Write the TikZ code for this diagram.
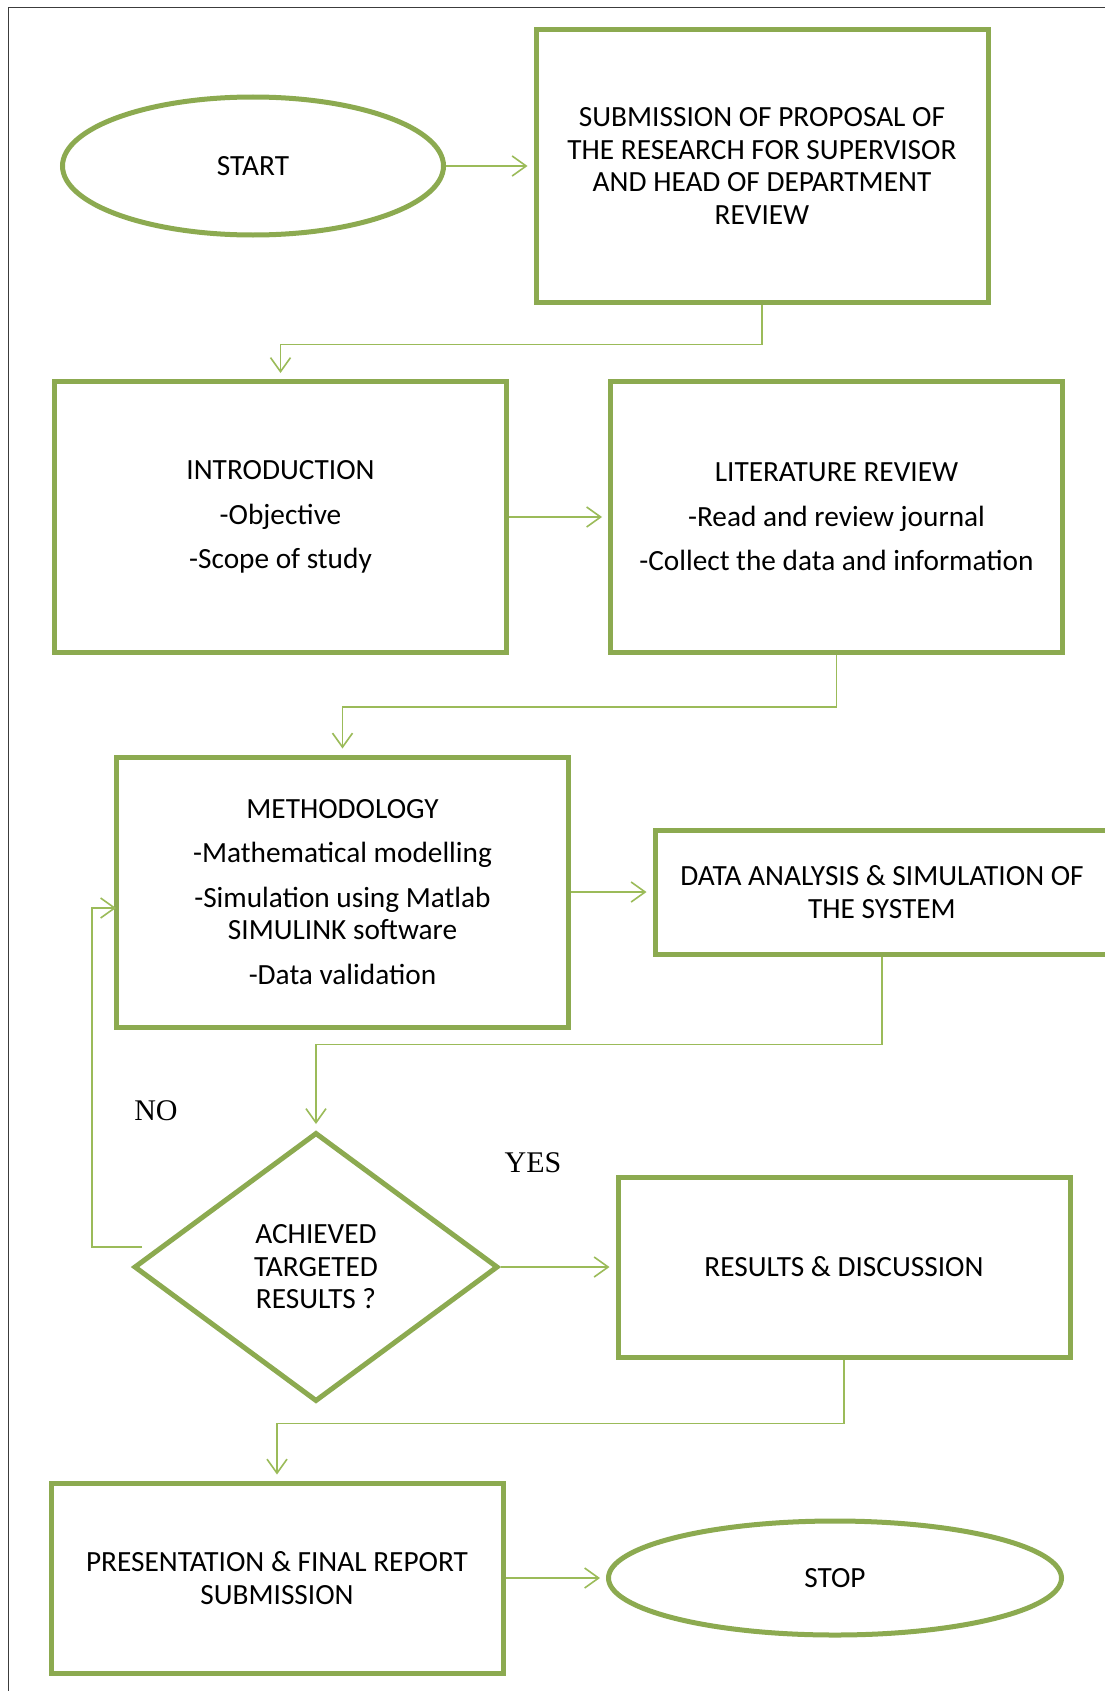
\documentclass[tikz,border=0pt]{standalone}
\usepackage{fontspec}
\setmainfont{Carlito}
\newfontfamily\timesf{Liberation Serif}
\usetikzlibrary{shapes.geometric,arrows.meta}
\definecolor{boxgreen}{RGB}{140,170,80}
\definecolor{linegreen}{RGB}{155,187,89}
\definecolor{framegray}{RGB}{60,60,60}
\begin{document}
\begin{tikzpicture}[x=1pt,y=-1pt,
  txt/.style={font=\fontsize{29.3}{32.5}\selectfont},
  stepbox/.style={draw=boxgreen, line width=5pt, inner sep=0pt, align=center, minimum width=452pt, txt},
  oval/.style={ellipse, draw=boxgreen, line width=5pt, inner sep=0pt, txt},
  decision/.style={diamond, draw=boxgreen, line width=5pt, inner sep=0pt, align=center, txt},
  conn/.style={draw=linegreen, line width=1.6pt, -{Straight Barb[length=14pt,width=20pt,line width=1.6pt]}, shorten >=6pt},
  lbl/.style={font=\timesf\fontsize{30}{34}\selectfont}
]
\useasboundingbox (0,0) rectangle (1105,1691);
\fill[white] (0,0) rectangle (1105,1691);
\draw[framegray, line width=1.3pt] (8.5,1691) -- (8.5,7.5) -- (1105,7.5);

\node[oval, minimum width=381pt, minimum height=138pt] (start) at (253,166) {START};
\node[stepbox, minimum height=272pt] (sub) at (762,166)
  {SUBMISSION OF PROPOSAL OF\\THE RESEARCH FOR SUPERVISOR\\AND HEAD OF DEPARTMENT\\REVIEW};
\node[stepbox, minimum height=271pt] (intro) at (280.5,517)
  {INTRODUCTION\\[12pt]-Objective\\[12pt]-Scope of study};
\node[stepbox, minimum height=271pt] (lit) at (836.5,517)
  {LITERATURE REVIEW\\[12pt]-Read and review journal\\[12pt]-Collect the data and information};
\node[stepbox, minimum height=270pt] (meth) at (342.5,892)
  {METHODOLOGY\\[12pt]-Mathematical modelling\\[12pt]-Simulation using Matlab\\SIMULINK software\\[12pt]-Data validation};
\node[stepbox, minimum width=454pt, minimum height=124pt] (data) at (882,892)
  {DATA ANALYSIS \& SIMULATION OF\\THE SYSTEM};
\node[decision, minimum width=364pt, minimum height=269pt] (dec) at (316,1267)
  {ACHIEVED\\TARGETED\\RESULTS ?};
\node[stepbox, minimum height=180pt] (res) at (844,1267) {RESULTS \& DISCUSSION};
\node[stepbox, minimum height=190pt] (pres) at (277,1578)
  {PRESENTATION \& FINAL REPORT\\SUBMISSION};
\node[oval, minimum width=453pt, minimum height=114pt] (stop) at (835,1578) {STOP};

\node[lbl] (no) at (156,1111) {NO};
\node[lbl] (yes) at (533,1163) {YES};

\draw[conn] (start.east) -- (sub.west);
\draw[conn] (sub.south) -- ++(0,40) -| (intro.north);
\draw[conn] (intro.east) -- (lit.west);
\draw[conn] (lit.south) -- ++(0,52) -| (meth.north);
\draw[conn] (meth.east) -- (data.west);
\draw[conn] (data.south) -- ++(0,88) -| (dec.north);
\draw[conn] (dec.east) -- (res.west);
\draw[conn] (res.south) -- ++(0,64) -| (pres.north);
\draw[conn] (pres.east) -- (stop.west);
\coordinate (noend) at (142,1247);
\draw[conn, shorten >=-2pt] (noend) -- (92,1247) |- ([yshift=-16pt]meth.west);
\end{tikzpicture}
\end{document}
